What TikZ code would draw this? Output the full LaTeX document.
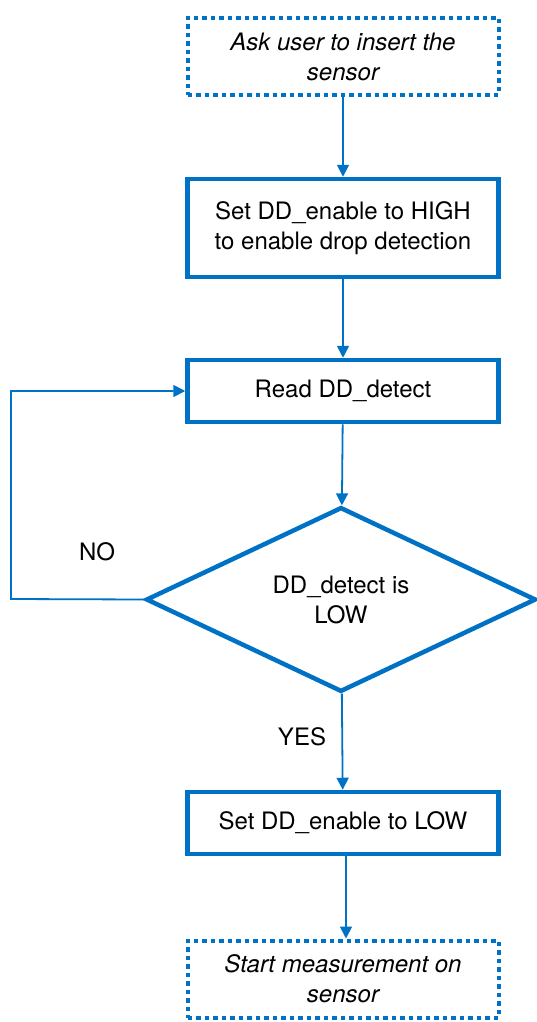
\documentclass[tikz,border=0pt]{standalone}
\usepackage{fontspec}
\setmainfont{TeX Gyre Heros}
\usepackage{tikz}
\usetikzlibrary{
    arrows.meta,
    shapes.geometric,
    positioning
}
\definecolor{flowblue}{RGB}{0,114,198}

\begin{document}
\begin{tikzpicture}[x=1pt, y=-1pt,
    font=\fontsize{24}{30}\selectfont,
    stepbox/.style={draw=flowblue, line width=4.5pt, minimum width=311pt, align=center, inner sep=0pt},
    userbox/.style={stepbox, line width=4pt, dash pattern=on 4.5pt off 4pt, minimum height=77pt, font=\fontsize{24}{30}\selectfont\itshape},
    decision/.style={draw=flowblue, line width=4.5pt, diamond, minimum width=390pt, minimum height=181pt, inner sep=0pt, align=center},
    flow/.style={draw=flowblue, line width=1.8pt, -{Triangle[length=12pt,width=12pt]}}]
                        \useasboundingbox (0, 0) rectangle (536, 1022);

                        \node[userbox] (ask) at (343, 56.5) {Ask user to insert the\\sensor};
                        \node[stepbox, minimum height=98pt] (high) at (343, 228) {Set DD\_enable to HIGH\\to enable drop detection};
                        \node[stepbox, minimum height=62pt] (read) at (343, 391) {Read DD\_detect};
                        \node[decision] (low) at (341, 599.5) {DD\_detect is\\LOW};
                        \node[stepbox, minimum height=62pt] (off) at (343, 823) {Set DD\_enable to LOW};
                        \node[userbox] (start) at (343, 979) {Start measurement on\\sensor};

                        \node (no) at (97, 552) {NO};
                        \node (yes) at (302, 737) {YES};
                        \coordinate (loop) at (11, 599);

                        \draw[flow] (ask) -- (high);
                        \draw[flow] (high) -- (read);
                        \draw[flow] (read) -- (low);
                        \draw[flow] (low) -- (off);
                        \draw[flow] ([xshift=3pt]off.south) -- ([xshift=3pt]start.north);
                        \draw[flow] (low.west) -- (loop) |- (read.west);
                    \end{tikzpicture}
\end{document}
